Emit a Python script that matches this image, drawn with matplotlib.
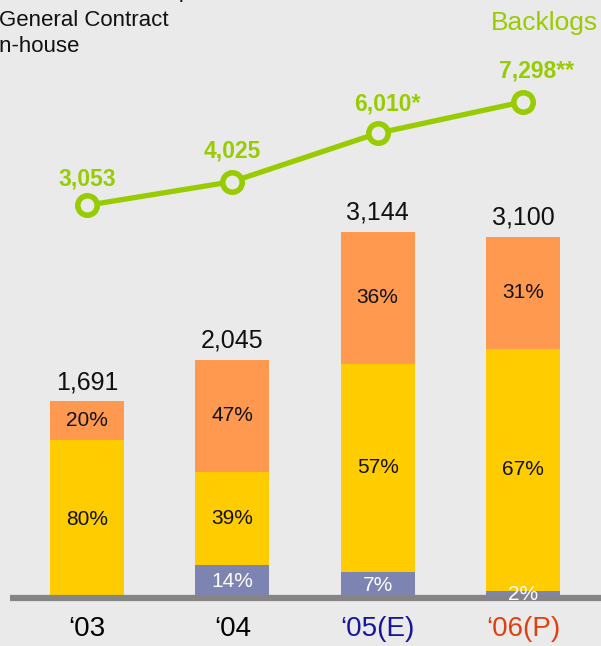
import matplotlib
matplotlib.use("Agg")
import matplotlib.pyplot as plt
import numpy as np

plt.rcParams['font.family'] = ['Liberation Sans', 'DejaVu Sans']

# ---- data ----
years = ["\u201803", "\u201804", "\u201805(E)", "\u201806(P)"]
year_colors = ["#000000", "#000000", "#1515A0", "#E04010"]
totals = [1691, 2045, 3144, 3100]
pct_inhouse = [0, 14, 7, 2]          # blue (bottom)
pct_general = [80, 39, 57, 67]       # yellow (middle)
pct_other = [20, 47, 36, 31]         # orange (top)
backlogs = [3053, 4025, 6010, 7298]
backlog_labels = ["3,053", "4,025", "6,010*", "7,298**"]

BG = "#EAEAEA"
C_BLUE = "#7E84B2"
C_YEL = "#FFCC00"
C_ORG = "#FF9950"
C_GREEN = "#99CC00"

W, H = 601, 646
fig = plt.figure(figsize=(W / 100, H / 100), dpi=100, facecolor=BG)
ax = fig.add_axes([0, 0, 1, 1])
ax.set_facecolor(BG)
ax.axis('off')

# pixel-calibrated scales
px_per_x = 145.33
x0_px = 87
ax.set_xlim(-x0_px / px_per_x, 3 + (W - 523) / px_per_x)
base_px = 48          # baseline height from bottom in pixels
py = 0.1165           # pixels per unit
ax.set_ylim(-base_px / py, (H - base_px) / py)

x = np.arange(len(years))
bw = 74 / px_per_x
totals_a = np.array(totals, float)
seg_b = totals_a * np.array(pct_inhouse) / 100
seg_y = totals_a * np.array(pct_general) / 100
seg_o = totals_a * np.array(pct_other) / 100

ax.bar(x, seg_b, bw, color=C_BLUE, zorder=2)
ax.bar(x, seg_y, bw, bottom=seg_b, color=C_YEL, zorder=2)
ax.bar(x, seg_o, bw, bottom=seg_b + seg_y, color=C_ORG, zorder=2)

fs_pct = 15
for i in range(len(x)):
    if pct_inhouse[i] > 0:
        zo = 5 if pct_inhouse[i] < 5 else 2.5
        ax.text(x[i], seg_b[i] / 2, f"{pct_inhouse[i]}%", ha='center', va='center',
                color='white', fontsize=fs_pct, zorder=zo)
    ax.text(x[i], seg_b[i] + seg_y[i] / 2, f"{pct_general[i]}%", ha='center', va='center',
            color='#111111', fontsize=fs_pct, zorder=3)
    ax.text(x[i], seg_b[i] + seg_y[i] + seg_o[i] / 2, f"{pct_other[i]}%", ha='center',
            va='center', color='#111111', fontsize=fs_pct, zorder=3)
    ax.annotate(f"{totals[i]:,}", (x[i], totals[i]), xytext=(0, 5), textcoords='offset points',
                ha='center', va='bottom', fontsize=18, color='#111111', zorder=3)
    ax.text(x[i], -base_px / py + 4 / py, years[i], ha='center', va='bottom',
            fontsize=20, color=year_colors[i])

# baseline
ax.plot([-x0_px / px_per_x + 10 / px_per_x, 3 + (W - 523) / px_per_x], [0, 0],
        color='#858585', lw=4.5, zorder=4, solid_capstyle='butt')

# backlogs line on twin axis
ax2 = fig.add_axes([0, 0, 1, 1], sharex=ax)
ax2.patch.set_visible(False)
ax2.axis('off')
slope = 0.02439
h0 = 366.2
ax2.set_ylim(-h0 / slope, (H - h0) / slope)
ax2.plot(x, backlogs, color=C_GREEN, lw=3.8, marker='o', ms=14, mew=4,
         mfc=BG, mec=C_GREEN, zorder=5)
offs = [(0, 11), (0, 14), (7, 13), (10, 14)]
for i in range(len(x)):
    ax2.annotate(backlog_labels[i], (x[i], backlogs[i]), xytext=offs[i],
                 textcoords='offset points', ha='center', va='bottom',
                 fontsize=16.5, fontweight='bold', color=C_GREEN)

# legend-ish texts (partly clipped at the figure edge, as in the reference)
fig.text(-0.012, 1 + 3 / H, "Residential Development", fontsize=16, va='baseline',
         ha='left', color='#111111')
fig.text(-0.002, 1 - 26 / H, "General Contract", fontsize=16, va='baseline', ha='left',
         color='#111111')
fig.text(-0.012, 1 - 52 / H, "In-house", fontsize=16, va='baseline', ha='left',
         color='#111111')
fig.text(1 - 3 / W, 1 - 30 / H, "Backlogs", fontsize=19, va='baseline', ha='right',
         color=C_GREEN)

fig.savefig("out.png", dpi=100, facecolor=BG)
